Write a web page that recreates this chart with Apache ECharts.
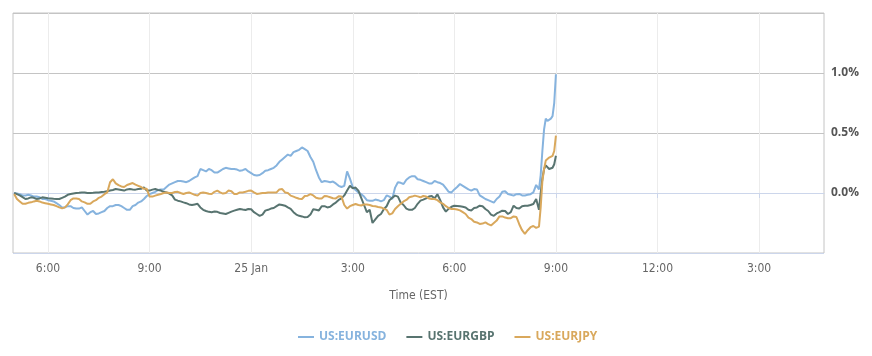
<!DOCTYPE html>
<html><head><meta charset="utf-8">
<script src="https://cdn.jsdelivr.net/npm/echarts@6/dist/echarts.min.js"></script>
<style>html,body{margin:0;padding:0;background:#fff}#c{width:872px;height:356px}</style>
</head><body><div id="c"></div>
<script>
// x values: minutes relative to 24 Jan 6:00 PM (EST)
const seriesNames = ['US:EURUSD', 'US:EURGBP', 'US:EURJPY'];
const seriesColors = ['#86b3de', '#587470', '#d9a85c'];
const tickMinutes = [0, 180, 360, 540, 720, 900, 1080, 1260];
const tickLabels = ['6:00', '9:00', '25 Jan', '3:00', '6:00', '9:00', '12:00', '3:00'];
const axisMinMinute = -62, axisMaxMinute = 1375;

// 5-minute readings from 5:00 PM to 8:30 AM
const mainStart = -60, mainStep = 5;
const eurusdMain = [
  0.0,-0.005,-0.01,-0.02,-0.02,-0.015,-0.02,-0.03,-0.03,-0.035,
  -0.05,-0.05,-0.06,-0.065,-0.07,-0.085,-0.1,-0.12,-0.12,-0.11,
  -0.11,-0.125,-0.13,-0.13,-0.12,-0.15,-0.18,-0.16,-0.15,-0.175,
  -0.17,-0.16,-0.15,-0.125,-0.11,-0.11,-0.10,-0.1,-0.11,-0.125,
  -0.14,-0.14,-0.11,-0.1,-0.08,-0.07,-0.05,-0.025,-0.01,0.0,
  0.01,0.025,0.03,0.03,0.05,0.07,0.08,0.09,0.10,0.1,
  0.095,0.09,0.10,0.115,0.13,0.14,0.2,0.19,0.18,0.2,
  0.19,0.17,0.17,0.185,0.2,0.21,0.205,0.2,0.2,0.195,
  0.185,0.19,0.2,0.18,0.165,0.15,0.145,0.15,0.165,0.185,
  0.19,0.2,0.21,0.23,0.26,0.28,0.3,0.32,0.31,0.34,
  0.35,0.36,0.38,0.365,0.35,0.3,0.26,0.19,0.13,0.09,
  0.10,0.095,0.09,0.095,0.08,0.06,0.05,0.06,0.18,0.12,
  0.05,0.025,0.005,-0.01,-0.03,-0.06,-0.065,-0.065,-0.055,-0.06,
  -0.07,-0.06,-0.02,-0.03,-0.05,0.045,0.09,0.085,0.075,0.11,
  0.13,0.14,0.14,0.115,0.11,0.1,0.09,0.08,0.08,0.1,
  0.09,0.083,0.07,0.04,0.01,0.005,0.03,0.05,0.075,0.06,
  0.045,0.03,0.02,0.033,0.03,-0.02,-0.035,-0.05,-0.06,-0.07,
  -0.08,-0.05,-0.03,0.01,0.015,-0.008,-0.015,-0.022,-0.01,-0.008,
  -0.02,-0.02,-0.015,-0.01,0.005,0.067,0.03];
const eurgbpMain = [
  0.0,-0.01,-0.02,-0.035,-0.05,-0.045,-0.036,-0.04,-0.05,-0.045,
  -0.036,-0.04,-0.044,-0.045,-0.048,-0.05,-0.05,-0.04,-0.03,-0.015,
  -0.008,-0.004,0.0,0.002,0.005,0.004,0.0,0.0,0.002,0.005,
  0.005,0.008,0.01,0.015,0.02,0.025,0.033,0.03,0.025,0.02,
  0.03,0.033,0.03,0.028,0.033,0.035,0.047,0.02,0.02,0.028,
  0.033,0.025,0.02,0.01,0.005,-0.005,-0.02,-0.055,-0.064,-0.07,
  -0.078,-0.085,-0.095,-0.1,-0.095,-0.09,-0.12,-0.14,-0.15,-0.157,
  -0.16,-0.155,-0.157,-0.167,-0.17,-0.175,-0.165,-0.155,-0.147,-0.14,
  -0.133,-0.138,-0.142,-0.133,-0.135,-0.16,-0.175,-0.19,-0.18,-0.147,
  -0.14,-0.13,-0.125,-0.11,-0.095,-0.1,-0.106,-0.12,-0.133,-0.16,
  -0.18,-0.19,-0.195,-0.203,-0.2,-0.18,-0.135,-0.14,-0.145,-0.11,
  -0.11,-0.12,-0.115,-0.095,-0.08,-0.058,-0.045,-0.02,0.02,0.06,
  0.04,0.045,0.02,-0.04,-0.1,-0.16,-0.14,-0.25,-0.22,-0.19,
  -0.175,-0.135,-0.11,-0.06,-0.04,-0.022,-0.03,-0.08,-0.1,-0.13,
  -0.14,-0.14,-0.125,-0.09,-0.064,-0.055,-0.045,-0.03,-0.025,-0.045,
  -0.01,-0.06,-0.12,-0.155,-0.13,-0.115,-0.106,-0.108,-0.11,-0.115,
  -0.12,-0.14,-0.145,-0.125,-0.12,-0.106,-0.11,-0.133,-0.15,-0.18,
  -0.19,-0.17,-0.16,-0.147,-0.15,-0.175,-0.16,-0.106,-0.125,-0.13,
  -0.11,-0.106,-0.106,-0.1,-0.092,-0.05,-0.14];
const eurjpyMain = [
  -0.008,-0.05,-0.07,-0.09,-0.09,-0.082,-0.078,-0.07,-0.065,-0.07,
  -0.08,-0.085,-0.09,-0.095,-0.1,-0.11,-0.12,-0.128,-0.12,-0.095,
  -0.06,-0.045,-0.045,-0.05,-0.07,-0.078,-0.09,-0.09,-0.07,-0.06,
  -0.04,-0.03,-0.01,0.005,0.09,0.115,0.08,0.065,0.055,0.05,
  0.067,0.075,0.083,0.07,0.06,0.05,0.035,0.035,-0.03,-0.03,
  -0.022,-0.015,-0.008,0.0,0.005,0.0,0.0,0.008,0.01,0.0,
  -0.008,0.0,0.005,-0.005,-0.015,-0.022,0.0,0.005,0.0,-0.006,
  -0.008,0.01,0.02,0.005,-0.005,0.0,0.02,0.015,-0.008,-0.008,
  0.005,0.005,0.01,0.018,0.02,0.005,-0.008,-0.005,0.0,0.0,
  0.005,0.005,0.005,0.005,0.03,0.033,0.005,0.0,-0.022,-0.03,
  -0.04,-0.048,-0.05,-0.025,-0.022,-0.01,-0.02,-0.04,-0.045,-0.045,
  -0.025,-0.028,-0.036,-0.044,-0.045,-0.028,-0.03,-0.1,-0.13,-0.11,
  -0.1,-0.092,-0.1,-0.104,-0.095,-0.096,-0.1,-0.108,-0.11,-0.116,
  -0.12,-0.13,-0.14,-0.18,-0.17,-0.133,-0.11,-0.09,-0.07,-0.058,
  -0.035,-0.03,-0.022,-0.028,-0.036,-0.025,-0.03,-0.045,-0.05,-0.05,
  -0.06,-0.078,-0.09,-0.11,-0.125,-0.133,-0.133,-0.138,-0.145,-0.16,
  -0.175,-0.205,-0.217,-0.24,-0.245,-0.258,-0.255,-0.245,-0.26,-0.27,
  -0.25,-0.23,-0.195,-0.195,-0.205,-0.21,-0.21,-0.195,-0.2,-0.26,
  -0.31,-0.34,-0.31,-0.285,-0.275,-0.29,-0.28];

// finer readings through the 8:30 - 9:00 AM jump
const tailMinutes = [873, 876, 879, 882, 885, 888, 891, 894, 897, 900];
const eurusdTail = [0.15, 0.35, 0.53, 0.62, 0.6, 0.6, 0.62, 0.64, 0.75, 0.99];
const eurgbpTail = [0.0, 0.12, 0.2, 0.23, 0.22, 0.2, 0.19, 0.21, 0.24, 0.31];
const eurjpyTail = [-0.12, 0.1, 0.2, 0.27, 0.28, 0.295, 0.3, 0.31, 0.35, 0.478];

function build(main, tail) {
  const out = main.map((v, i) => [mainStart + i * mainStep, v]);
  tail.forEach((v, i) => out.push([tailMinutes[i], v]));
  return out;
}
const allData = [build(eurusdMain, eurusdTail), build(eurgbpMain, eurgbpTail), build(eurjpyMain, eurjpyTail)];

const chart = echarts.init(document.getElementById('c'), null, {renderer: 'canvas'});
chart.setOption({
  animation: false,
  backgroundColor: '#ffffff',
  grid: {left: 13, top: 13, width: 811, height: 240, show: true, borderColor: '#c4c4c4', borderWidth: 1, containLabel: false},
  xAxis: {
    type: 'value', min: axisMinMinute, max: axisMaxMinute,
    name: 'Time (EST)', nameLocation: 'middle', nameGap: 37,
    nameTextStyle: {color: '#666666', fontSize: 12, fontFamily: 'DejaVu Sans Condensed, DejaVu Sans'},
    axisLine: {show: true, lineStyle: {color: '#ccd6eb', width: 1}},
    axisTick: {show: true, customValues: tickMinutes, length: 5, lineStyle: {color: '#ccd6eb'}},
    axisLabel: {
      customValues: tickMinutes, margin: 10, color: '#666666', fontSize: 12,
      fontFamily: 'DejaVu Sans Condensed, DejaVu Sans',
      formatter: v => tickLabels[tickMinutes.indexOf(v)] || ''
    },
    splitLine: {show: true, lineStyle: {color: '#ececec', width: 1}}
  },
  yAxis: {
    type: 'value', position: 'right', min: -0.5, max: 1.5, interval: 0.5,
    axisLine: {show: false}, axisTick: {show: false},
    axisLabel: {
      margin: 7, color: '#555555', fontSize: 12, fontWeight: 'bold', fontFamily: 'Open Sans, DejaVu Sans',
      formatter: v => (Math.abs(v + 0.5) < 1e-9 || Math.abs(v - 1.5) < 1e-9) ? '' : v.toFixed(1) + '%'
    },
    splitLine: {show: true, lineStyle: {color: ['#ccd6eb', '#c4c4c4', '#c4c4c4', '#c4c4c4', '#c4c4c4'], width: 1}}
  },
  legend: {
    left: 293, top: 326, icon: 'rect', itemWidth: 16, itemHeight: 2, itemGap: 20,
    textStyle: {fontSize: 12, fontWeight: 'bold', fontFamily: 'Open Sans, DejaVu Sans'},
    data: seriesNames.map((n, i) => ({name: n, textStyle: {color: seriesColors[i]}}))
  },
  series: seriesNames.map((n, i) => ({
    name: n, type: 'line', data: allData[i], showSymbol: false, symbol: 'none',
    color: seriesColors[i], lineStyle: {width: 2, color: seriesColors[i]}
  }))
});
</script></body></html>
